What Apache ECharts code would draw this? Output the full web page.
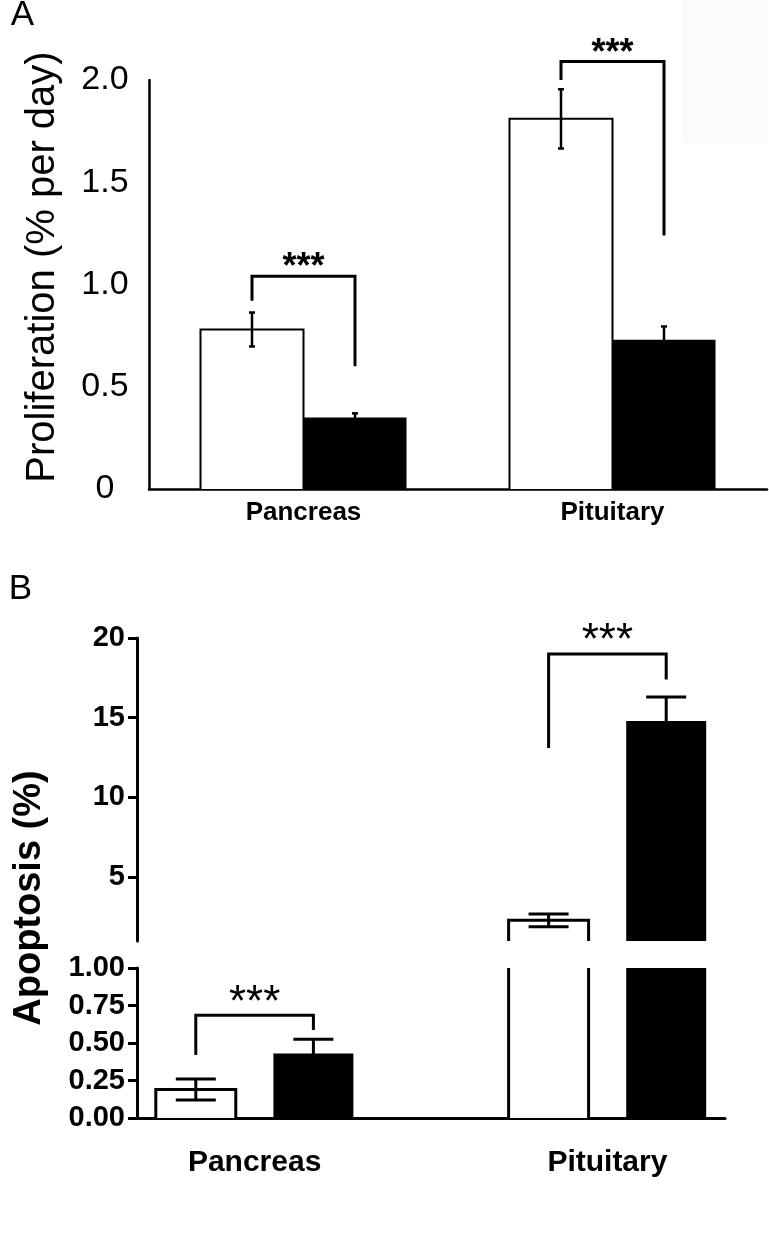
<!DOCTYPE html>
<html>
<head>
<meta charset="utf-8">
<script src="https://cdn.jsdelivr.net/npm/echarts@6/dist/echarts.min.js"></script>
<style>
html,body{margin:0;padding:0;background:#fff;}
#chart{width:769px;height:1237px;}
</style>
</head>
<body>
<div id="chart"></div>
<script>
// ---------- data ----------
const categories = ['Pancreas', 'Pituitary'];

// Panel A: proliferation (% per day)
const profControl = [0.78, 1.81];
const profControlErr = [0.083, 0.145];
const profTreated = [0.35, 0.73];
const profTreatedErr = [0.02, 0.065];
const profTicks = [0, 0.5, 1.0, 1.5, 2.0];

// Panel B: apoptosis (%)
const apopControl = [0.19, 2.3];
const apopControlErr = [0.07, 0.4];
const apopTreated = [0.43, 14.8];
const apopTreatedErr = [0.095, 1.5];
const apopTicksUpper = [5, 10, 15, 20];
const apopTicksLower = [0, 0.25, 0.5, 0.75, 1.0];

// significance brackets (values on the y scale)
const sigA_top = [1.04, 2.09];
const sigA_leftEnd = [0.92, 2.0];
const sigA_rightEnd = [0.60, 1.24];
const sigA_label = ['***', '***'];
const sigB_top = [0.685, 19.0];
const sigB_leftEnd = [0.42, 13.1];
const sigB_rightEnd = [0.586, 17.4];
const sigB_label = ['***', '***'];

// ---------- helpers ----------
const FONT = '"Liberation Sans", Arial, Helvetica, sans-serif';
const BREAK_AT = 1; // lower segment [0,1], upper segment [1,20]

function posOf(catIdx, group) { return catIdx * 3 + group; }

function barRender(widthFrac, yMin, yMax, lw) {
  return function (params, api) {
    const x = api.value(0), v = api.value(1), kind = api.value(2);
    if (v <= yMin) return null;
    const top = Math.min(v, yMax);
    const clippedTop = v > yMax;
    const bw = api.size([1, 0])[0] * widthFrac;
    const pT = api.coord([x, top]);
    const pB = api.coord([x, yMin]);
    const l = pT[0] - bw / 2, r = pT[0] + bw / 2;
    const children = [{
      type: 'rect',
      shape: { x: l, y: pT[1], width: bw, height: pB[1] - pT[1] },
      style: { fill: kind === 1 ? '#000' : '#fff' }
    }];
    if (kind === 0) {
      if (clippedTop) {
        children.push({ type: 'line', shape: { x1: l, y1: pB[1], x2: l, y2: pT[1] }, style: { stroke: '#000', lineWidth: lw } });
        children.push({ type: 'line', shape: { x1: r, y1: pB[1], x2: r, y2: pT[1] }, style: { stroke: '#000', lineWidth: lw } });
      } else {
        children.push({ type: 'polyline', shape: { points: [[l, pB[1]], [l, pT[1]], [r, pT[1]], [r, pB[1]]] }, style: { stroke: '#000', lineWidth: lw, fill: null, lineJoin: 'miter' } });
      }
    }
    return { type: 'group', children: children };
  };
}

function errRender(capW, lw) {
  return function (params, api) {
    const x = api.value(0), m = api.value(1), e = api.value(2);
    const p1 = api.coord([x, m + e]);
    const p2 = api.coord([x, m - e]);
    const st = { stroke: '#000', lineWidth: lw };
    return {
      type: 'group', children: [
        { type: 'line', shape: { x1: p1[0], y1: p1[1], x2: p2[0], y2: p2[1] }, style: st },
        { type: 'line', shape: { x1: p1[0] - capW / 2, y1: p1[1], x2: p1[0] + capW / 2, y2: p1[1] }, style: st },
        { type: 'line', shape: { x1: p2[0] - capW / 2, y1: p2[1], x2: p2[0] + capW / 2, y2: p2[1] }, style: st }
      ]
    };
  };
}

const sigLabels = { sigA: sigA_label, sigBlow: [], sigBup: [] };
function bracketRender(lw, font, starOffset) {
  return function (params, api) {
    const x1 = api.value(0), x2 = api.value(1), top = api.value(2), le = api.value(3), re = api.value(4);
    const label = sigLabels[params.seriesName][params.dataIndex];
    const a = api.coord([x1, le]), b = api.coord([x1, top]), c = api.coord([x2, top]), d = api.coord([x2, re]);
    return {
      type: 'group', children: [
        { type: 'polyline', shape: { points: [a, b, c, d] }, style: { stroke: '#000', lineWidth: lw, fill: null, lineJoin: 'miter' } },
        { type: 'text', x: (b[0] + c[0]) / 2, y: b[1] - starOffset, style: { text: label, font: font, fill: '#000', textAlign: 'center', textVerticalAlign: 'middle' } }
      ]
    };
  };
}

// ---------- build series data ----------
const barsA = [], errA = [];
categories.forEach((c, i) => {
  barsA.push([posOf(i, 0), profControl[i], 0]);
  barsA.push([posOf(i, 1), profTreated[i], 1]);
  errA.push([posOf(i, 0), profControl[i], profControlErr[i]]);
  errA.push([posOf(i, 1), profTreated[i], profTreatedErr[i]]);
});
const sigA = categories.map((c, i) => [posOf(i, 0), posOf(i, 1), sigA_top[i], sigA_leftEnd[i], sigA_rightEnd[i]]);

const barsB = [], errBlow = [], errBup = [];
categories.forEach((c, i) => {
  barsB.push([posOf(i, 0), apopControl[i], 0]);
  barsB.push([posOf(i, 1), apopTreated[i], 1]);
  const e0 = [posOf(i, 0), apopControl[i], apopControlErr[i]];
  const e1 = [posOf(i, 1), apopTreated[i], apopTreatedErr[i]];
  (apopControl[i] > BREAK_AT ? errBup : errBlow).push(e0);
  (apopTreated[i] > BREAK_AT ? errBup : errBlow).push(e1);
});
const sigBlow = [], sigBup = [];
categories.forEach((c, i) => {
  const row = [posOf(i, 0), posOf(i, 1), sigB_top[i], sigB_leftEnd[i], sigB_rightEnd[i]];
  if (sigB_top[i] > BREAK_AT) { sigBup.push(row); sigLabels.sigBup.push(sigB_label[i]); }
  else { sigBlow.push(row); sigLabels.sigBlow.push(sigB_label[i]); }
});

const catLabelPos = [posOf(0, 0.5), posOf(1, 0.5)];
function catFormatter(v) {
  const i = catLabelPos.findIndex(p => Math.abs(p - v) < 1e-6);
  return i >= 0 ? categories[i] : '';
}

// ---------- chart ----------
const chart = echarts.init(document.getElementById('chart'), null, { renderer: 'canvas' });
const option = {
  animation: false,
  backgroundColor: '#fff',
  grid: [
    { left: 149, top: 80, width: 618, height: 409 },
    { left: 137, top: 638, width: 588, height: 303 },
    { left: 137, top: 968, width: 588, height: 150 }
  ],
  xAxis: [
    {
      gridIndex: 0, type: 'value', min: -1, max: 5,
      axisLine: { show: true, onZero: false, lineStyle: { color: '#000', width: 2.5 } },
      axisTick: { show: false }, splitLine: { show: false },
      axisLabel: { customValues: catLabelPos, formatter: catFormatter, color: '#000', fontFamily: FONT, fontWeight: 'bold', fontSize: 26, margin: 11 }
    },
    { gridIndex: 1, type: 'value', min: -0.5, max: 4.5, show: false },
    {
      gridIndex: 2, type: 'value', min: -0.5, max: 4.5,
      axisLine: { show: true, onZero: false, lineStyle: { color: '#000', width: 3 } },
      axisTick: { show: false }, splitLine: { show: false },
      axisLabel: { customValues: catLabelPos, formatter: catFormatter, color: '#000', fontFamily: FONT, fontWeight: 'bold', fontSize: 30, margin: 30 }
    }
  ],
  yAxis: [
    {
      gridIndex: 0, type: 'value', min: 0, max: 2, interval: 0.5,
      axisLine: { show: true, onZero: false, lineStyle: { color: '#000', width: 2.5 } },
      axisTick: { show: false }, splitLine: { show: false },
      axisLabel: {
        customValues: profTicks,
        formatter: v => (v === 0 ? '0' : v.toFixed(1)),
        color: '#000', fontFamily: FONT, fontSize: 34, align: 'center', margin: 44
      }
    },
    {
      gridIndex: 1, type: 'value', min: 1, max: 20,
      axisLine: { show: true, onZero: false, lineStyle: { color: '#000', width: 3 } },
      axisTick: { show: true, customValues: apopTicksUpper, length: 9, lineStyle: { color: '#000', width: 3 } },
      splitLine: { show: false },
      axisLabel: { customValues: apopTicksUpper, formatter: v => String(v), color: '#000', fontFamily: FONT, fontWeight: 'bold', fontSize: 29, margin: 12 }
    },
    {
      gridIndex: 2, type: 'value', min: 0, max: 1, interval: 0.25,
      axisLine: { show: true, onZero: false, lineStyle: { color: '#000', width: 3 } },
      axisTick: { show: true, customValues: apopTicksLower, length: 9, lineStyle: { color: '#000', width: 3 } },
      splitLine: { show: false },
      axisLabel: { customValues: apopTicksLower, formatter: v => v.toFixed(2), color: '#000', fontFamily: FONT, fontWeight: 'bold', fontSize: 29, margin: 12 }
    }
  ],
  series: [
    { name: 'barsA', type: 'custom', xAxisIndex: 0, yAxisIndex: 0, data: barsA, renderItem: barRender(1.0, 0, 2, 2), z: 2 },
    { name: 'errA', type: 'custom', xAxisIndex: 0, yAxisIndex: 0, data: errA, renderItem: errRender(6, 2.5), z: 3 },
    { name: 'sigA', type: 'custom', xAxisIndex: 0, yAxisIndex: 0, data: sigA, renderItem: bracketRender(3, 'bold 36px ' + FONT, 8), z: 3 },

    { name: 'barsBup', type: 'custom', xAxisIndex: 1, yAxisIndex: 1, data: barsB, renderItem: barRender(0.68, 1, 20, 3), z: 2 },
    { name: 'barsBlow', type: 'custom', xAxisIndex: 2, yAxisIndex: 2, data: barsB, renderItem: barRender(0.68, 0, 1, 3), z: 2 },
    { name: 'errBup', type: 'custom', xAxisIndex: 1, yAxisIndex: 1, data: errBup, renderItem: errRender(40, 3), z: 3 },
    { name: 'errBlow', type: 'custom', xAxisIndex: 2, yAxisIndex: 2, data: errBlow, renderItem: errRender(40, 3), z: 3 },
    { name: 'sigBup', type: 'custom', xAxisIndex: 1, yAxisIndex: 1, data: sigBup, renderItem: bracketRender(3, '44px ' + FONT, 12), z: 3 },
    { name: 'sigBlow', type: 'custom', xAxisIndex: 2, yAxisIndex: 2, data: sigBlow, renderItem: bracketRender(3, '44px ' + FONT, 11), z: 3 }
  ],
  graphic: [
    { type: 'rect', shape: { x: 682, y: 0, width: 85, height: 143 }, style: { fill: '#fbfbfb' }, z: -1 },
    { type: 'text', x: 22.5, y: 15.5, style: { text: 'A', font: '35px ' + FONT, fill: '#000', textAlign: 'center', textVerticalAlign: 'middle' } },
    { type: 'text', x: 20.5, y: 589, style: { text: 'B', font: '35px ' + FONT, fill: '#000', textAlign: 'center', textVerticalAlign: 'middle' } },
    { type: 'text', x: 43, y: 267, rotation: Math.PI / 2, style: { text: 'Proliferation (% per day)', font: '40px ' + FONT, fill: '#000', textAlign: 'center', textVerticalAlign: 'middle' } },
    { type: 'text', x: 30, y: 898, rotation: Math.PI / 2, style: { text: 'Apoptosis (%)', font: 'bold 38px ' + FONT, fill: '#000', textAlign: 'center', textVerticalAlign: 'middle' } }
  ]
};
chart.setOption(option);
</script>
</body>
</html>
